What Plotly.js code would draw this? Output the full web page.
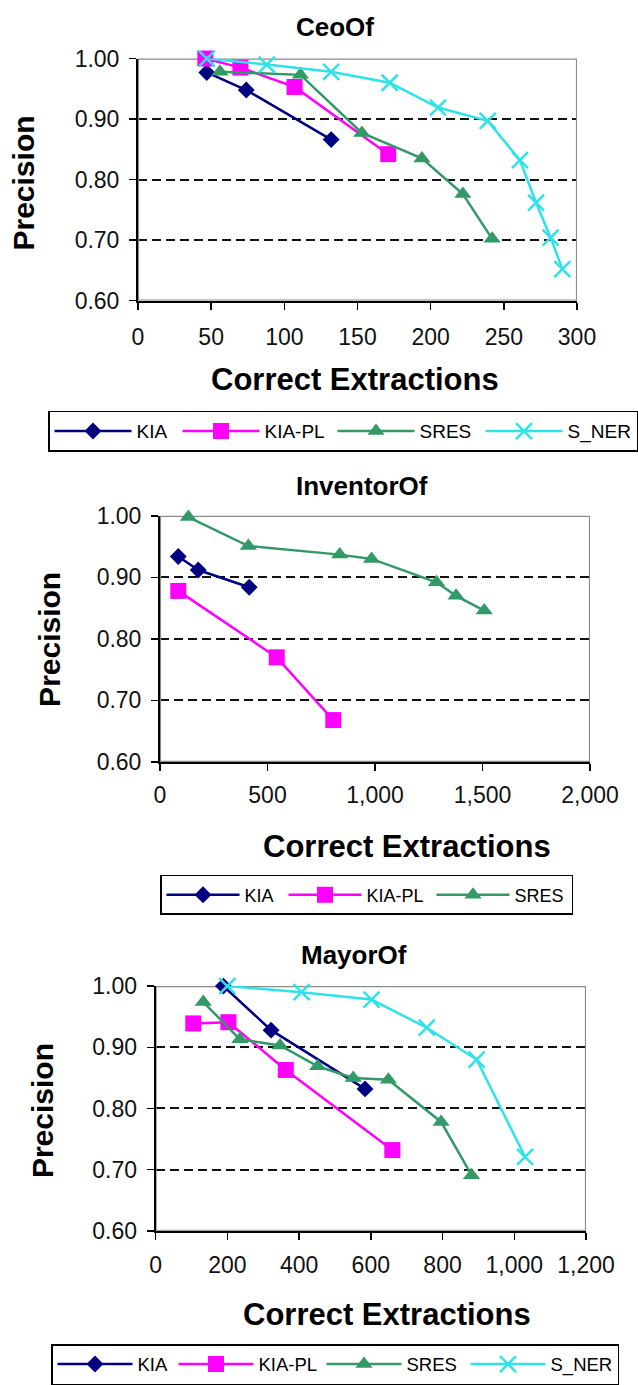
<!DOCTYPE html>
<html>
<head>
<meta charset="utf-8">
<script src="https://cdn.plot.ly/plotly-3.0.1.min.js"></script>
<style>html,body{margin:0;padding:0;background:#fff}#chart{width:638px;height:1385px}</style>
</head>
<body>
<div id="chart"></div>
<script>
// ---- Data ----
const seriesNames = ["KIA", "KIA-PL", "SRES", "S_NER"];

// CeoOf
const ceoKIA_x   = [47, 74, 132];
const ceoKIA_y   = [0.977, 0.948, 0.866];
const ceoKIAPL_x = [46, 70, 107, 171];
const ceoKIAPL_y = [1.00, 0.985, 0.953, 0.842];
const ceoSRES_x  = [56, 111, 153, 194, 222, 242];
const ceoSRES_y  = [0.978, 0.973, 0.877, 0.835, 0.776, 0.702];
const ceoSNER_x  = [47, 88, 132, 172, 205, 239, 261, 272, 282, 290];
const ceoSNER_y  = [1.00, 0.990, 0.978, 0.960, 0.919, 0.897, 0.832, 0.762, 0.704, 0.652];

// InventorOf
const invKIA_x   = [85, 178, 415];
const invKIA_y   = [0.934, 0.912, 0.884];
const invKIAPL_x = [85, 543, 806];
const invKIAPL_y = [0.878, 0.770, 0.668];
const invSRES_x  = [132, 411, 836, 984, 1286, 1377, 1508];
const invSRES_y  = [0.998, 0.951, 0.937, 0.930, 0.892, 0.870, 0.846];

// MayorOf
const mayKIA_x   = [189, 322, 584];
const mayKIA_y   = [1.00, 0.928, 0.832];
const mayKIAPL_x = [105, 203, 363, 660];
const mayKIAPL_y = [0.939, 0.941, 0.863, 0.732];
const maySRES_x  = [133, 235, 347, 452, 551, 649, 796, 881];
const maySRES_y  = [0.974, 0.913, 0.903, 0.869, 0.850, 0.847, 0.778, 0.691];
const maySNER_x  = [200, 407, 602, 756, 895, 1030];
const maySNER_y  = [1.00, 0.990, 0.978, 0.932, 0.880, 0.721];

const chartTitles = ["CeoOf", "InventorOf", "MayorOf"];
const yTitle = "Precision";
const xTitle = "Correct Extractions";
const yRange = [0.6, 1.0];
const xMax = [300, 2000, 1200];
const xStep = [50, 500, 200];

// ---- Styles ----
const W = 638, H = 1385;
const FONT = "Arial, 'Liberation Sans', sans-serif";
const styles = {
  "KIA":    {color: "#000080", symbol: "diamond", size: 13},
  "KIA-PL": {color: "#FF00FF", symbol: "square", size: 16},
  "SRES":   {color: "#339966", symbol: "triangle-up", size: 15},
  "S_NER":  {color: "#2EE3E8", symbol: "x-thin", size: 16}
};
// legend entry widths (px) per chart, per series
const legendEntryW = [
  {"KIA": 36, "KIA-PL": 63, "SRES": 56, "S_NER": 64},
  {"KIA": 34, "KIA-PL": 60, "SRES": 52},
  {"KIA": 31, "KIA-PL": 58, "SRES": 54, "S_NER": 62}
];
function mk(name, x, y, chartIdx) {
  const s = styles[name];
  const suffix = chartIdx === 0 ? "" : String(chartIdx + 1);
  return {
    type: "scatter", mode: "lines+markers", name: name, x: x, y: y,
    xaxis: "x" + suffix, yaxis: "y" + suffix, legend: "legend" + suffix,
    legendwidth: legendEntryW[chartIdx][name],
    cliponaxis: false,
    line: {color: s.color, width: 2.5},
    marker: {symbol: s.symbol, size: s.size, color: s.color,
             line: {color: s.color, width: s.symbol === "x-thin" ? 2.5 : 0}}
  };
}
const traces = [
  mk("KIA", ceoKIA_x, ceoKIA_y, 0),
  mk("KIA-PL", ceoKIAPL_x, ceoKIAPL_y, 0),
  mk("SRES", ceoSRES_x, ceoSRES_y, 0),
  mk("S_NER", ceoSNER_x, ceoSNER_y, 0),
  mk("KIA", invKIA_x, invKIA_y, 1),
  mk("KIA-PL", invKIAPL_x, invKIAPL_y, 1),
  mk("SRES", invSRES_x, invSRES_y, 1),
  mk("KIA", mayKIA_x, mayKIA_y, 2),
  mk("KIA-PL", mayKIAPL_x, mayKIAPL_y, 2),
  mk("SRES", maySRES_x, maySRES_y, 2),
  mk("S_NER", maySNER_x, maySNER_y, 2)
];

function px(x) { return x / W; }
function py(y) { return 1 - y / H; }

const tickFont = {family: FONT, size: 23, color: "#111"};
function yax(top, bottom, anchor) {
  return {
    anchor: anchor,
    domain: [py(bottom), py(top)], range: yRange, tick0: 0.6, dtick: 0.1,
    tickformat: ".2f", showgrid: true, gridcolor: "#111", gridwidth: 2,
    griddash: "9px,5px", showline: true, linecolor: "#000", linewidth: 2,
    ticks: "outside", ticklen: 7, tickwidth: 1.5, tickcolor: "#000",
    ticklabelstandoff: 5,
    zeroline: false, tickfont: tickFont, fixedrange: true
  };
}
function xax(left, right, i, anchor, standoff) {
  return {
    anchor: anchor,
    domain: [px(left), px(right)], range: [0, xMax[i]], tick0: 0, dtick: xStep[i],
    separatethousands: true, showgrid: false, showline: true, linecolor: "#000",
    linewidth: 2, ticks: "outside", ticklen: 7, tickwidth: 1.5, tickcolor: "#000",
    ticklabelstandoff: standoff,
    zeroline: false, tickfont: tickFont, fixedrange: true
  };
}
function frame(suffix, i) {
  return {type: "rect", xref: "x" + suffix, yref: "y" + suffix,
          x0: 0, x1: xMax[i], y0: yRange[0], y1: yRange[1],
          line: {color: "#8a8a8a", width: 2.2}, layer: "between"};
}
function ann(text, x, y, size, angle) {
  return {text: "<b>" + text + "</b>", xref: "paper", yref: "paper", x: px(x), y: py(y),
          xanchor: "center", yanchor: "middle", showarrow: false, textangle: angle || 0,
          font: {family: FONT, size: size, color: "#000"}};
}
function leg(left, top, itemW, fs) {
  return {orientation: "h", x: px(left), y: py(top), xanchor: "left", yanchor: "top",
          bgcolor: "#fff", bordercolor: "#000", borderwidth: 1.5, itemwidth: itemW,
          font: {family: FONT, size: fs, color: "#000"}, tracegroupgap: 0};
}

const layout = {
  width: W, height: H, margin: {l: 0, r: 0, t: 0, b: 0},
  paper_bgcolor: "#fff", plot_bgcolor: "#fff", font: {family: FONT},
  showlegend: true,
  xaxis: xax(138, 577, 0, "y", 8),      yaxis: yax(59, 303, "x"),
  xaxis2: xax(160, 590, 1, "y2", 4),    yaxis2: yax(520, 768, "x2"),
  xaxis3: xax(155.6, 586, 2, "y3", 6),  yaxis3: yax(994, 1240.7, "x3"),
  legend: leg(48, 414, 77, 19),
  legend2: leg(160, 882, 73, 18),
  legend3: leg(51, 1355, 75, 18.5),
  shapes: [frame("", 0), frame("2", 1), frame("3", 2)],
  annotations: [
    ann(chartTitles[0], 335, 27, 26), ann(yTitle, 24, 185, 30, -90), ann(xTitle, 355, 383, 31),
    ann(chartTitles[1], 362, 490, 26), ann(yTitle, 50, 645, 30, -90), ann(xTitle, 407, 853, 31),
    ann(chartTitles[2], 354, 963, 26), ann(yTitle, 42, 1120, 30, -90), ann(xTitle, 387, 1325, 31)
  ]
};

Plotly.newPlot("chart", traces, layout, {staticPlot: true, displayModeBar: false});
</script>
</body>
</html>
